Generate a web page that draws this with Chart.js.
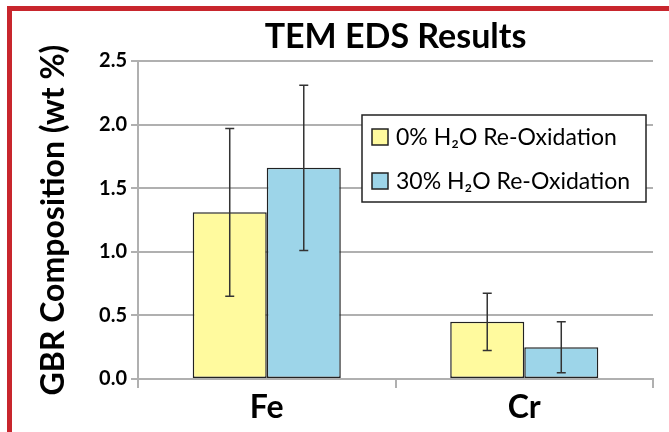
<!DOCTYPE html>
<html>
<head>
<meta charset="utf-8">
<title>TEM EDS Results</title>
<script src="https://cdn.jsdelivr.net/npm/chart.js@4.4.0/dist/chart.umd.min.js"></script>
<style>
  html, body { margin: 0; padding: 0; background: #fff; }
  #wrap { position: relative; width: 669px; height: 432px; overflow: hidden; }
  #frame {
    position: absolute; left: 7px; top: 6px; width: 700px; height: 500px;
    border-left: 5px solid #c8262d; border-top: 5px solid #c8262d;
  }
  canvas { position: absolute; left: 0; top: 0; }
</style>
</head>
<body>
<div id="wrap">
  <div id="frame"></div>
  <canvas id="chart" width="669" height="432"></canvas>
</div>
<script>
const categories = ['Fe', 'Cr'];
const seriesNames = ['0% H₂O Re-Oxidation', '30% H₂O Re-Oxidation'];
const dryValues = [1.31, 0.45];
const dryErrors = [0.66, 0.225];
const wetValues = [1.66, 0.25];
const wetErrors = [0.65, 0.2];
const yMax = 2.5;
const yStep = 0.5;

const FONT = 'Lato, "Open Sans", sans-serif';
const GRID = '#b0b0b0';
const EDGE = '#222';

// vertical error bars with flat caps, centred on each bar
const errorBars = {
  id: 'errorBars',
  afterDatasetsDraw(chart) {
    const ctx = chart.ctx;
    const y = chart.scales.y;
    chart.data.datasets.forEach((ds, i) => {
      chart.getDatasetMeta(i).data.forEach((bar, j) => {
        const v = ds.data[j], e = ds.errors[j];
        const top = y.getPixelForValue(v + e);
        const bot = y.getPixelForValue(v - e);
        const x = bar.x;
        ctx.save();
        ctx.strokeStyle = '#333';
        ctx.lineWidth = 1.5;
        ctx.beginPath();
        ctx.moveTo(x, top); ctx.lineTo(x, bot);
        ctx.moveTo(x - 4.5, top); ctx.lineTo(x + 4.5, top);
        ctx.moveTo(x - 4.5, bot); ctx.lineTo(x + 4.5, bot);
        ctx.stroke();
        ctx.restore();
      });
    });
  }
};

// boxed legend sitting inside the plot area, top right
const boxLegend = {
  id: 'boxLegend',
  afterDraw(chart, args, opts) {
    const ctx = chart.ctx;
    const area = chart.chartArea;
    const left = area.left + opts.dx, top = area.top + opts.dy;
    ctx.save();
    ctx.fillStyle = '#fff';
    ctx.fillRect(left, top, opts.width, opts.height);
    ctx.strokeStyle = EDGE;
    ctx.lineWidth = 1.5;
    ctx.strokeRect(left, top, opts.width, opts.height);
    ctx.font = '23px ' + FONT;
    ctx.textBaseline = 'middle';
    ctx.textAlign = 'left';
    chart.data.datasets.forEach((ds, i) => {
      const cy = top + opts.firstRow + i * opts.rowGap;
      ctx.fillStyle = ds.backgroundColor;
      ctx.fillRect(left + 10, cy - 8, 16, 16);
      ctx.strokeRect(left + 10, cy - 8, 16, 16);
      ctx.fillStyle = '#000';
      ctx.fillText(ds.label, left + 34, cy + 1);
    });
    ctx.restore();
  }
};

new Chart(document.getElementById('chart'), {
  type: 'bar',
  data: {
    labels: categories,
    datasets: [
      {
        label: seriesNames[0],
        data: dryValues,
        errors: dryErrors,
        backgroundColor: '#fffa9e',
        borderColor: EDGE,
        borderWidth: 1.5,
        borderSkipped: false
      },
      {
        label: seriesNames[1],
        data: wetValues,
        errors: wetErrors,
        backgroundColor: '#9dd5e9',
        borderColor: EDGE,
        borderWidth: 1.5,
        borderSkipped: false
      }
    ]
  },
  plugins: [errorBars, boxLegend],
  options: {
    responsive: false,
    animation: false,
    categoryPercentage: 0.575,
    barPercentage: 1,
    layout: { padding: { top: 12, right: 16, left: 17, bottom: 0 } },
    plugins: {
      legend: { display: false },
      tooltip: { enabled: false },
      title: {
        display: true,
        text: 'TEM EDS Results',
        fullSize: false,
        color: '#000',
        font: { family: FONT, size: 34, weight: 'bold' },
        padding: { top: 5, bottom: 3.2 }
      },
      boxLegend: { dx: 224, dy: 54, width: 284, height: 87, firstRow: 22, rowGap: 44 }
    },
    scales: {
      x: {
        afterFit(scale) { scale.height = 53; },
        grid: {
          offset: true,
          drawOnChartArea: false,
          drawTicks: true,
          tickLength: 9,
          color: GRID,
          lineWidth: 2
        },
        border: { color: GRID, width: 2 },
        ticks: {
          padding: 0,
          color: '#000',
          font: { family: FONT, size: 32, weight: 'bold' }
        }
      },
      y: {
        min: 0,
        max: yMax,
        afterFit(scale) { scale.width = 121; },
        grid: { color: GRID, lineWidth: 2, tickLength: 7 },
        border: { color: GRID, width: 2 },
        ticks: {
          stepSize: yStep,
          padding: 4,
          color: '#000',
          font: { family: FONT, size: 20, weight: 'bold' },
          callback: v => v.toFixed(1)
        },
        title: {
          display: true,
          text: 'GBR Composition (wt %)',
          color: '#000',
          font: { family: FONT, size: 32, weight: 'bold' },
          padding: { top: 17, bottom: 0 }
        }
      }
    }
  }
});
</script>
</body>
</html>
